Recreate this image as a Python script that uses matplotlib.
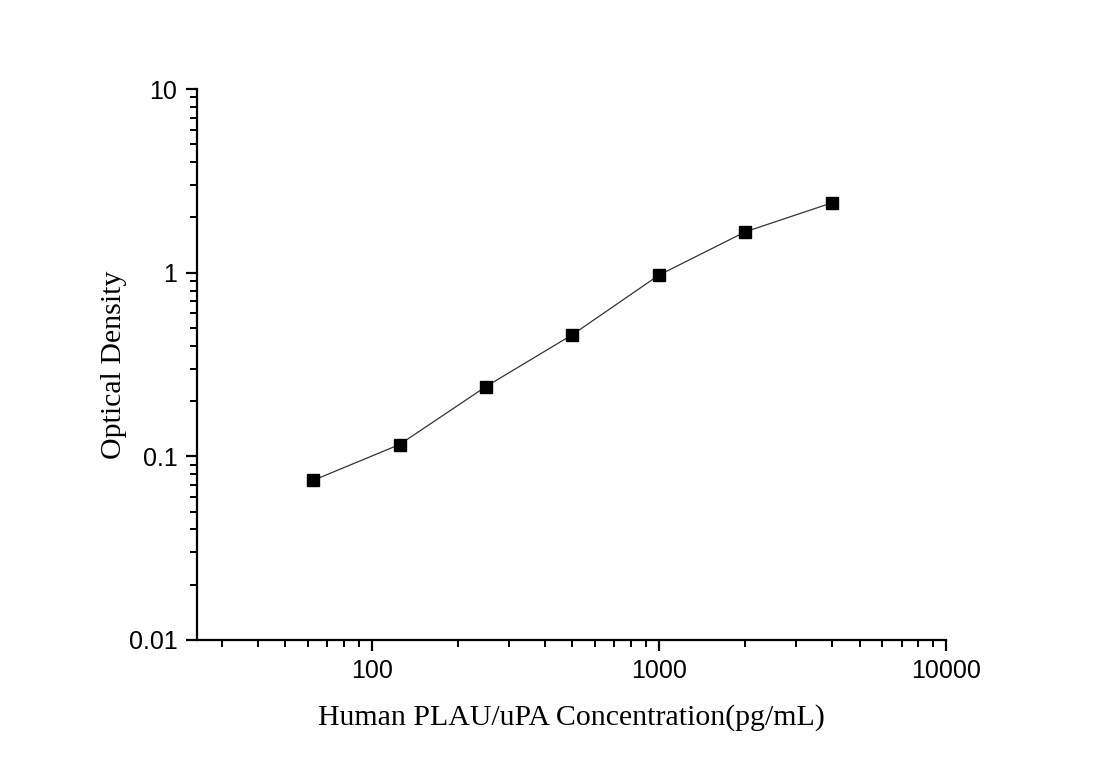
import matplotlib
matplotlib.use('Agg')
import matplotlib.pyplot as plt
import numpy as np

# Standard curve data
concentration = [62.5, 125, 250, 500, 1000, 2000, 4000]
optical_density = [0.074, 0.116, 0.24, 0.46, 0.97, 1.67, 2.40]

x_major_ticks = [100, 1000, 10000]
x_major_labels = ['100', '1000', '10000']
y_major_ticks = [0.01, 0.1, 1, 10]
y_major_labels = ['0.01', '0.1', '1', '10']

fig = plt.figure(figsize=(11, 7.68), dpi=100)
ax = fig.add_axes([0.179, 0.1667, 0.681, 0.7173])

ax.plot(concentration, optical_density, color='#333333', linewidth=0.9,
        marker='s', markersize=8.5, markerfacecolor='black',
        markeredgecolor='black', zorder=3)

ax.set_xscale('log')
ax.set_yscale('log')
ax.set_xlim(24.6, 10000)
ax.set_ylim(0.01, 10)

ax.set_xticks(x_major_ticks)
ax.set_xticklabels(x_major_labels)
ax.set_yticks(y_major_ticks)
ax.set_yticklabels(y_major_labels)

for side in ['top', 'right']:
    ax.spines[side].set_visible(False)
for side in ['left', 'bottom']:
    ax.spines[side].set_linewidth(1.6)

ax.tick_params(which='major', direction='out', length=8, width=1.6,
               labelsize=18, pad=6)
ax.tick_params(which='minor', direction='out', length=5, width=1.4)
for lab in ax.get_xticklabels() + ax.get_yticklabels():
    lab.set_fontfamily('Liberation Sans')

ax.set_xlabel('Human PLAU/uPA Concentration(pg/mL)', fontsize=21.5,
              fontfamily='Liberation Serif', labelpad=15)
ax.set_ylabel('Optical Density', fontsize=21.5,
              fontfamily='Liberation Serif', labelpad=1)

fig.savefig('out.png', dpi=100)
